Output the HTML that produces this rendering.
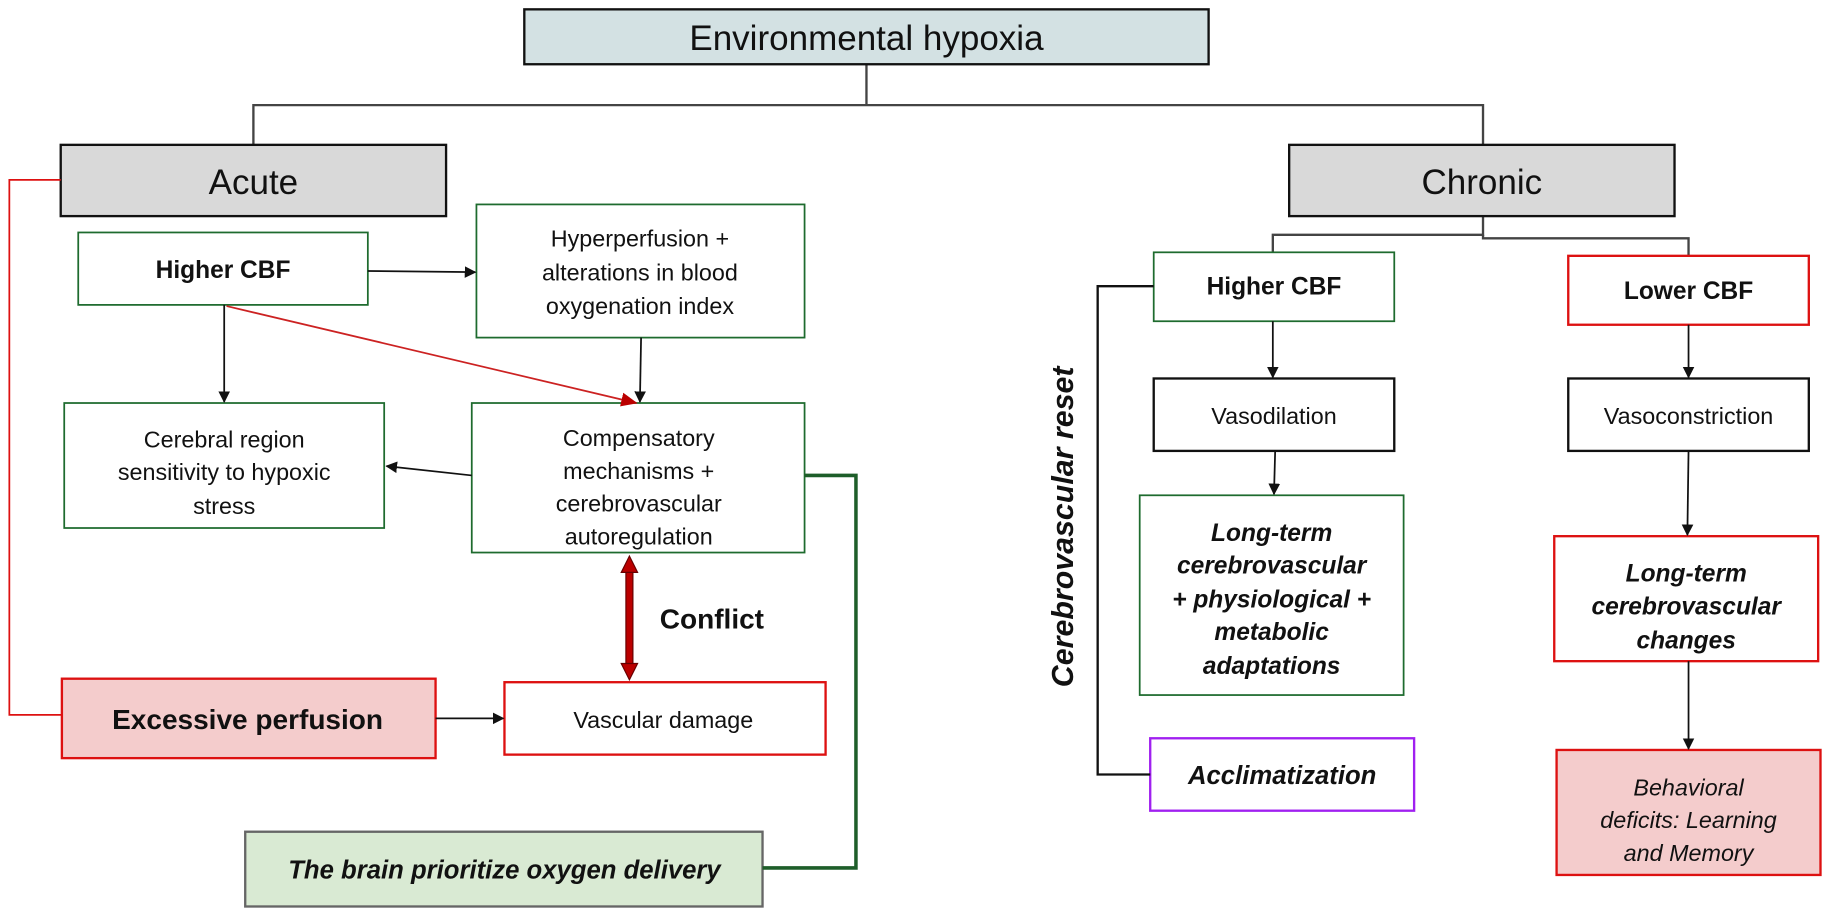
<!DOCTYPE html>
<html><head><meta charset="utf-8">
<style>
html,body{margin:0;padding:0;background:#fff;}
svg{display:block;}
text{font-family:"Liberation Sans",Arial,sans-serif;fill:#111;}
</style></head>
<body>
<svg width="1831" height="917" viewBox="0 0 1568 785" preserveAspectRatio="none" xmlns="http://www.w3.org/2000/svg">
<defs>
<marker id="ab" markerWidth="10" markerHeight="10" refX="9" refY="5" orient="auto" markerUnits="userSpaceOnUse"><path d="M0,0 L10,5 L0,10 z" fill="#111"/></marker>
<marker id="ar" markerWidth="14" markerHeight="12" refX="13" refY="6" orient="auto" markerUnits="userSpaceOnUse"><path d="M0,0 L14,6 L0,12 z" fill="#b00"/></marker>
</defs>

<g stroke="#444" stroke-width="2" fill="none">
<path d="M742,55 V90"/>
<path d="M217,124 V90 H1270 V124"/>
<path d="M1270,185 V201 H1090 V216"/>
<path d="M1270,201 V204 H1446 V219"/>
</g>

<rect x="449" y="8" width="586" height="47" fill="#d3e1e3" stroke="#111" stroke-width="2"/>
<text x="742" y="43" font-size="30" text-anchor="middle">Environmental hypoxia</text>

<rect x="52" y="124" width="330" height="61" fill="#d9d9d9" stroke="#111" stroke-width="2"/>
<text x="217" y="166" font-size="30" text-anchor="middle">Acute</text>
<rect x="1104" y="124" width="330" height="61" fill="#d9d9d9" stroke="#111" stroke-width="2"/>
<text x="1269" y="166" font-size="30" text-anchor="middle">Chronic</text>

<g fill="#fff" stroke="#1e6b2e" stroke-width="1.5">
<rect x="67" y="199" width="248" height="62"/>
<rect x="408" y="175" width="281" height="114"/>
<rect x="55" y="345" width="274" height="107"/>
<rect x="404" y="345" width="285" height="128"/>
<rect x="988" y="216" width="206" height="59"/>
<rect x="976" y="424" width="226" height="171"/>
</g>
<text x="191" y="238" font-size="21" font-weight="bold" text-anchor="middle">Higher CBF</text>
<text font-size="20" text-anchor="middle"><tspan x="548" y="211">Hyperperfusion +</tspan><tspan x="548" y="240">alterations in blood</tspan><tspan x="548" y="269">oxygenation index</tspan></text>
<text font-size="20" text-anchor="middle"><tspan x="192" y="383">Cerebral region</tspan><tspan x="192" y="411">sensitivity to hypoxic</tspan><tspan x="192" y="440">stress</tspan></text>
<text font-size="20" text-anchor="middle"><tspan x="547" y="382">Compensatory</tspan><tspan x="547" y="410">mechanisms +</tspan><tspan x="547" y="438">cerebrovascular</tspan><tspan x="547" y="466">autoregulation</tspan></text>
<text x="1091" y="252" font-size="21" font-weight="bold" text-anchor="middle">Higher CBF</text>
<text font-size="21" font-weight="bold" font-style="italic" text-anchor="middle"><tspan x="1089" y="463">Long-term</tspan><tspan x="1089" y="491">cerebrovascular</tspan><tspan x="1089" y="520">+ physiological +</tspan><tspan x="1089" y="548">metabolic</tspan><tspan x="1089" y="577">adaptations</tspan></text>

<g fill="#fff" stroke="#111" stroke-width="2">
<rect x="988" y="324" width="206" height="62"/>
<rect x="1343" y="324" width="206" height="62"/>
</g>
<text x="1091" y="363" font-size="20" text-anchor="middle">Vasodilation</text>
<text x="1446" y="363" font-size="20" text-anchor="middle">Vasoconstriction</text>

<rect x="1343" y="219" width="206" height="59" fill="#fff" stroke="#d11" stroke-width="2"/>
<text x="1446" y="256" font-size="21" font-weight="bold" text-anchor="middle">Lower CBF</text>
<rect x="1331" y="459" width="226" height="107" fill="#fff" stroke="#d11" stroke-width="2"/>
<text font-size="21" font-weight="bold" font-style="italic" text-anchor="middle"><tspan x="1444" y="498">Long-term</tspan><tspan x="1444" y="526">cerebrovascular</tspan><tspan x="1444" y="555">changes</tspan></text>
<rect x="1333" y="642" width="226" height="107" fill="#f4cccc" stroke="#d11" stroke-width="2"/>
<text font-size="20" font-style="italic" text-anchor="middle"><tspan x="1446" y="681">Behavioral</tspan><tspan x="1446" y="709">deficits: Learning</tspan><tspan x="1446" y="737">and Memory</tspan></text>

<rect x="53" y="581" width="320" height="68" fill="#f4cccc" stroke="#d11" stroke-width="2"/>
<text x="212" y="624" font-size="24" font-weight="bold" text-anchor="middle">Excessive perfusion</text>
<rect x="432" y="584" width="275" height="62" fill="#fff" stroke="#d11" stroke-width="2"/>
<text x="568" y="623" font-size="20" text-anchor="middle">Vascular damage</text>

<rect x="985" y="632" width="226" height="62" fill="#fff" stroke="#a020f0" stroke-width="2"/>
<text x="1098" y="671" font-size="22" font-weight="bold" font-style="italic" text-anchor="middle">Acclimatization</text>

<rect x="210" y="712" width="443" height="64" fill="#d9ead3" stroke="#666" stroke-width="2"/>
<text x="432" y="752" font-size="22" font-weight="bold" font-style="italic" text-anchor="middle">The brain prioritize oxygen delivery</text>

<g stroke="#111" stroke-width="1.5" fill="none" marker-end="url(#ab)">
<path d="M315,232 L407,233"/>
<path d="M192,261 V344"/>
<path d="M549,289 L548,344"/>
<path d="M404,407 L331,399"/>
<path d="M373,615 H431"/>
<path d="M1090,275 V323"/>
<path d="M1446,278 V323"/>
<path d="M1092,386 L1091,423"/>
<path d="M1446,386 L1445,458"/>
<path d="M1446,566 V641"/>
</g>
<path d="M194,262 L545,345" stroke="#c22" stroke-width="1.5" fill="none" marker-end="url(#ar)"/>

<rect x="536" y="488" width="6" height="82" fill="#b00" stroke="#600" stroke-width="1"/>
<path d="M532,490 L539,476 L546,490 z" fill="#b00" stroke="#600"/>
<path d="M532,568 L539,582 L546,568 z" fill="#b00" stroke="#600"/>
<text x="565" y="538" font-size="24" font-weight="bold">Conflict</text>

<path d="M52,154 H8 V612 H53" stroke="#d11" stroke-width="1.5" fill="none"/>
<path d="M689,407 H733 V743 H653" stroke="#1e5e2a" stroke-width="3" fill="none"/>
<path d="M988,245 H940 V663 H985" stroke="#111" stroke-width="2" fill="none"/>

<text transform="translate(919,451) rotate(-90)" font-size="26" font-weight="bold" font-style="italic" text-anchor="middle">Cerebrovascular reset</text>
</svg>
</body></html>
